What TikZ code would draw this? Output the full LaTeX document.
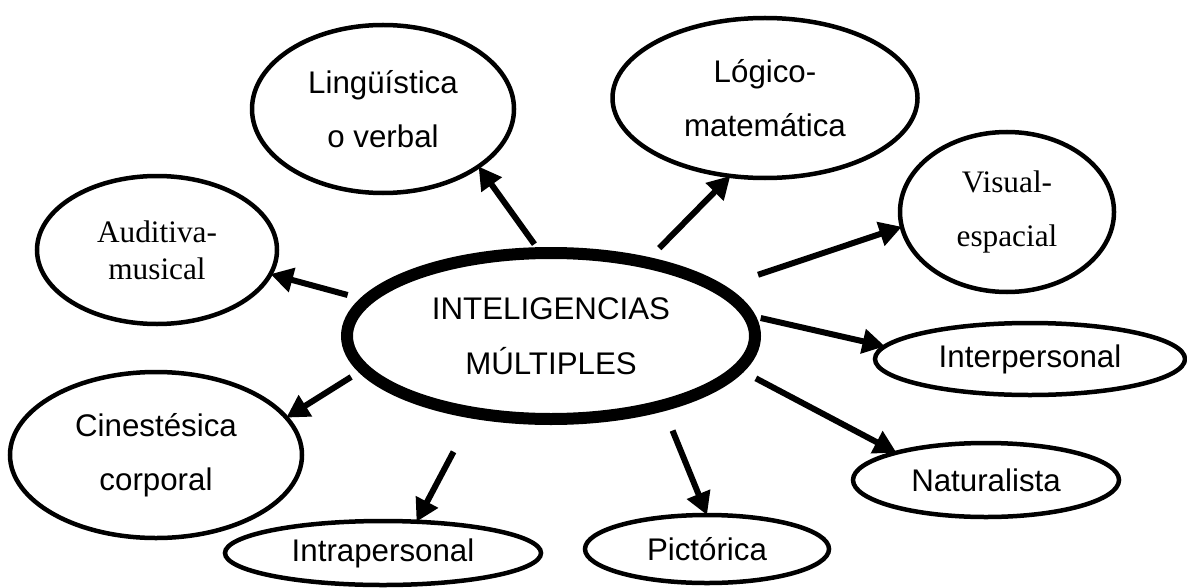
\documentclass[tikz,border=0pt]{standalone}
\usepackage{fontspec}
\setmainfont{Liberation Sans}
\newfontfamily\romanfont{Liberation Serif}
\usepackage{tikz}
\usetikzlibrary{shapes,arrows,positioning,calc,arrows.meta}

\begin{document}
\begin{tikzpicture}[
    idea/.style={draw, ellipse, line width=0.09cm, inner sep=0pt, outer sep=0pt, align=center, font=\fontsize{17.8}{31}\selectfont},
    core/.style={idea, line width=0.24cm},
    flecha/.style={-{Triangle[length=0.45cm,width=0.48cm]}, line width=0.12cm}
]
    \useasboundingbox (0,0) rectangle (23.74,11.74);

    \node[core, minimum width=8.16cm, minimum height=3.32cm] (main) at (11.02,5.02) {INTELIGENCIAS\\MÚLTIPLES};

    \node[idea, minimum width=5.24cm, minimum height=3.36cm] (ling) at (7.66,9.56) {Lingüística\\o verbal};
    \node[idea, minimum width=6.1cm, minimum height=3.2cm] (logi) at (15.3,9.78) {Lógico-\\matemática};
    \node[idea, minimum width=4.28cm, minimum height=3.2cm, font=\romanfont\fontsize{17.8}{31}\selectfont] (visu) at (20.14,7.50) {Visual-\\espacial};
    \node[idea, minimum width=4.8cm, minimum height=2.96cm, font=\romanfont\fontsize{17.8}{21}\selectfont] (audi) at (3.14,6.74) {Auditiva-\\musical};
    \node[idea, minimum width=6.2cm, minimum height=1.44cm] (inter) at (20.60,4.56) {Interpersonal};
    \node[idea, minimum width=5.32cm, minimum height=1.48cm] (natu) at (19.72,2.14) {Naturalista};
    \node[idea, minimum width=5.84cm, minimum height=3.32cm] (cine) at (3.12,2.64) {Cinestésica\\corporal};
    \node[idea, minimum width=6.32cm, minimum height=1.28cm] (intra) at (7.66,0.68) {Intrapersonal};
    \node[idea, minimum width=4.88cm, minimum height=1.36cm] (pict) at (14.14,0.76) {Pictórica};

    % flechas desde el centro
    \draw[flecha, shorten <=0.22cm] (main.97) -- (ling.-31);
    \draw[flecha, shorten <=0.4cm] (main.38) -- (logi.-114);
    \draw[flecha, shorten <=0.85cm] (main.16) -- (visu.-172);
    \draw[flecha, shorten <=0.4cm] (main.169) -- (audi.-12);
    \draw[flecha, shorten <=0.25cm] (main.6) -- (inter.175);
    \draw[flecha, shorten <=0.4cm] (main.-10) -- (natu.163);
    \draw[flecha, shorten <=0.3cm] (main.-170) -- (cine.16);
    \draw[flecha, shorten <=0.88cm] (main.-135) -- (intra.43);
    \draw[flecha, shorten <=0.54cm] (main.-32) -- (pict.90);
\end{tikzpicture}
\end{document}
